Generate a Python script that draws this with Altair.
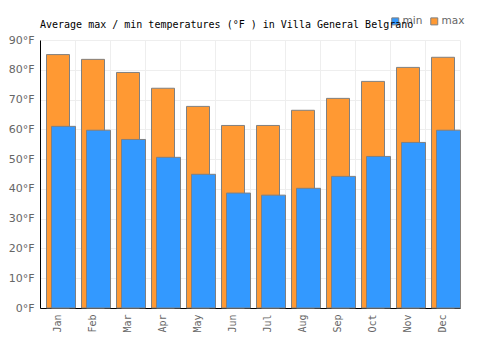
import altair as alt
import pandas as pd

months = ["Jan", "Feb", "Mar", "Apr", "May", "Jun", "Jul", "Aug", "Sep", "Oct", "Nov", "Dec"]
max_f = [85.1, 83.5, 79.1, 73.8, 67.7, 61.3, 61.3, 66.4, 70.4, 76.1, 80.8, 84.2]
min_f = [61.0, 59.7, 56.6, 50.6, 44.9, 38.6, 37.9, 40.2, 44.2, 50.9, 55.6, 59.7]

rows = []
for m, v in zip(months, max_f):
    rows.append({"month": m, "series": "max", "temp": v})
for m, v in zip(months, min_f):
    rows.append({"month": m, "series": "min", "temp": v})
df = pd.DataFrame(rows)

color = alt.Color(
    "series:N",
    scale=alt.Scale(domain=["min", "max"], range=["#3399ff", "#ff9933"]),
    legend=alt.Legend(
        title=None, orient="none", legendX=350, legendY=-24, direction="horizontal",
        symbolType="square", symbolSize=49, symbolStrokeColor="#808080", symbolStrokeWidth=1,
        labelColor="#666666", labelFont="DejaVu Sans", labelFontSize=10.5, columnPadding=5,
        labelOffset=2,
    ),
)

x = alt.X(
    "month:N", sort=months, title=None,
    scale=alt.Scale(paddingInner=0, paddingOuter=0),
    axis=alt.Axis(labelAngle=-90, labelColor="#666666", labelFont="DejaVu Sans Mono",
                  labelFontSize=10, ticks=False, domainColor="#000000", gridColor="#eeeeee",
                  grid=True, tickBand="extent", labelPadding=6, labelBaseline="middle"),
)
y = alt.Y(
    "temp:Q", title=None,
    scale=alt.Scale(domain=[0, 90], nice=False),
    axis=alt.Axis(values=list(range(0, 91, 10)), labelExpr="datum.value + '°F'",
                  labelColor="#666666", labelFont="DejaVu Sans", labelFontSize=11,
                  ticks=False, labelPadding=6, domainColor="#000000", gridColor="#eeeeee"),
)

base = alt.Chart(df)
bars_max = base.transform_filter("datum.series == 'max'").mark_bar(
    width=23, xOffset=0.5, stroke="#808080", strokeWidth=1
).encode(x=x, y=y, color=color)
bars_min = base.transform_filter("datum.series == 'min'").mark_bar(
    width=24, xOffset=6, stroke="#808080", strokeWidth=1
).encode(x=x, y=y, color=color)

chart = alt.layer(bars_max, bars_min).properties(
    width=420, height=268,
    title=alt.TitleParams(
        "Average max / min temperatures (°F ) in Villa General Belgrano",
        font="DejaVu Sans Mono", fontSize=10, fontWeight="normal", color="#000000",
        anchor="start", frame="group", offset=0, dy=14,
    ),
    autosize=alt.AutoSizeParams(type="none"),
    padding={"left": 40, "top": 40, "right": 40, "bottom": 42},
).configure_view(stroke=None)

chart.save("out.html", embed_options={"renderer": "svg", "actions": False})
